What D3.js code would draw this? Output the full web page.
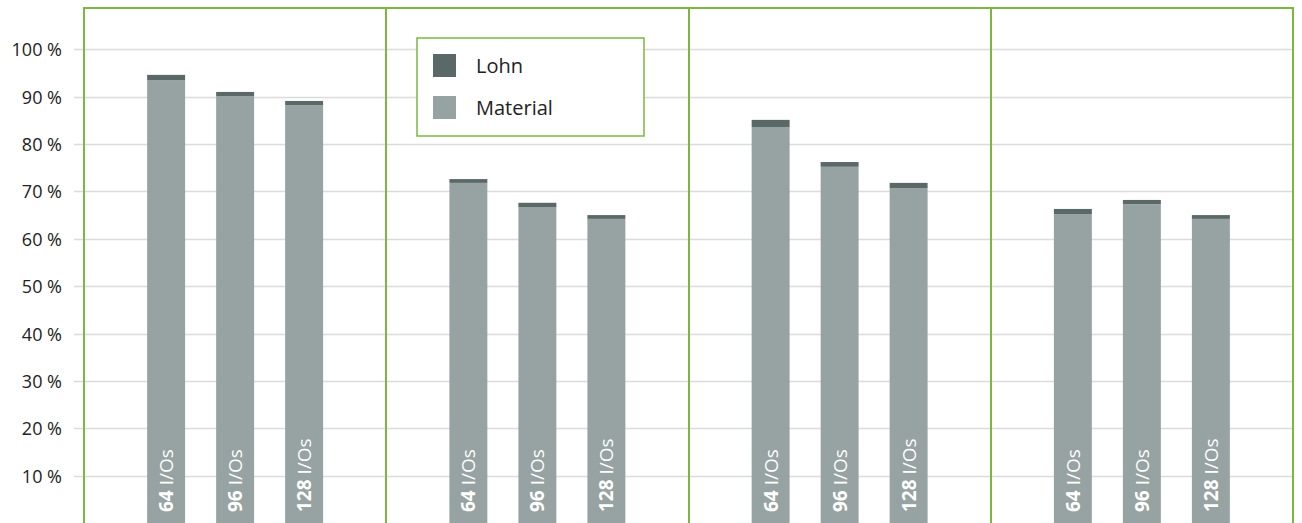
<!DOCTYPE html>
<html>
<head>
<meta charset="utf-8">
<script src="https://cdn.jsdelivr.net/npm/d3@7"></script>
<style>
  html, body { margin: 0; padding: 0; background: #fff; }
  svg { display: block; font-family: "Open Sans", "Noto Sans", sans-serif; }
</style>
</head>
<body>
<svg id="chart" width="1302" height="523"></svg>
<script>
const groups = ["G1", "G2", "G3", "G4"];
const subCategories = ["64", "96", "128"];
const material = [
  [93.5, 90.1, 88.2],
  [71.8, 66.7, 64.2],
  [83.6, 75.2, 70.7],
  [65.2, 67.3, 64.2]
];
const lohn = [
  [1.1, 0.9, 0.9],
  [0.8, 0.9, 0.8],
  [1.5, 1.0, 1.1],
  [1.1, 0.9, 0.8]
];
const yTicks = [10, 20, 30, 40, 50, 60, 70, 80, 90, 100];
const seriesNames = ["Lohn", "Material"];
const colors = { Lohn: "#5a6868", Material: "#97a2a2" };
const green = "#7ab83f";

const svg = d3.select("#chart");
const W = 1302, H = 523;
const mLeft = 84, mRight = 1293, mTop = 8;

const y = d3.scaleLinear().domain([0, 100]).range([523, 49.3]);
const x0 = d3.scaleBand().domain(groups).range([mLeft, mRight]).padding(0);
const innerW = 207;
const x1 = d3.scaleBand().domain(subCategories).range([0, innerW]).paddingInner(0.45).paddingOuter(0.225);

// gridlines
svg.append("g").selectAll("line").data(yTicks).join("line")
  .attr("x1", 74).attr("x2", mRight)
  .attr("y1", d => Math.round(y(d)) + 0.5).attr("y2", d => Math.round(y(d)) + 0.5)
  .attr("stroke", "#dcdcdc").attr("stroke-width", 1.5);

// y axis labels
const yAxis = d3.axisLeft(y).tickValues(yTicks).tickSize(0).tickPadding(0)
  .tickFormat(d => d + " %");
const ya = svg.append("g").attr("transform", "translate(62,0)").call(yAxis);
ya.select(".domain").remove();
ya.selectAll("text").attr("font-size", 18).attr("fill", "#222")
  .attr("font-family", "'Open Sans', sans-serif").attr("dy", "0.36em");

// bars
const data = [];
groups.forEach((g, gi) => {
  subCategories.forEach((s, si) => {
    data.push({ g, s, mat: material[gi][si], lohn: lohn[gi][si] });
  });
});
const gOff = (x0.bandwidth() - innerW) / 2;
const bars = svg.append("g").selectAll("g").data(data).join("g")
  .attr("transform", d => `translate(${x0(d.g) + gOff + x1(d.s)},0)`);
bars.append("rect")
  .attr("x", 0).attr("width", x1.bandwidth())
  .attr("y", d => y(d.mat)).attr("height", d => y(0) - y(d.mat))
  .attr("fill", colors.Material);
bars.append("rect")
  .attr("x", 0).attr("width", x1.bandwidth())
  .attr("y", d => y(d.mat + d.lohn)).attr("height", d => y(d.mat) - y(d.mat + d.lohn))
  .attr("fill", colors.Lohn);
const lbl = bars.append("text")
  .attr("transform", `translate(${x1.bandwidth() / 2 + 7},512) rotate(-90)`)
  .attr("fill", "#fff").attr("font-size", 19);
lbl.append("tspan").attr("font-weight", "bold").text(d => d.s);
lbl.append("tspan").text(" I/Os");

// green frame
const frame = svg.append("g").attr("stroke", green).attr("stroke-width", 2).attr("fill", "none");
frame.append("line").attr("x1", mLeft - 1).attr("x2", mRight + 1).attr("y1", mTop).attr("y2", mTop);
const vx = groups.map(g => x0(g)).concat([mRight]);
frame.selectAll("line.v").data(vx).join("line").attr("class", "v")
  .attr("x1", d => Math.round(d)).attr("x2", d => Math.round(d))
  .attr("y1", mTop).attr("y2", H);

// legend
const lg = svg.append("g").attr("transform", "translate(417,38)");
lg.append("rect").attr("width", 227).attr("height", 98)
  .attr("fill", "#fff").attr("stroke", green).attr("stroke-width", 1.5);
const li = lg.selectAll("g").data(seriesNames).join("g")
  .attr("transform", (d, i) => `translate(16,${16 + i * 42})`);
li.append("rect").attr("width", 23).attr("height", 23).attr("fill", d => colors[d]);
li.append("text").attr("x", 43).attr("y", 19).attr("font-size", 20).attr("fill", "#222").text(d => d);
</script>
</body>
</html>
